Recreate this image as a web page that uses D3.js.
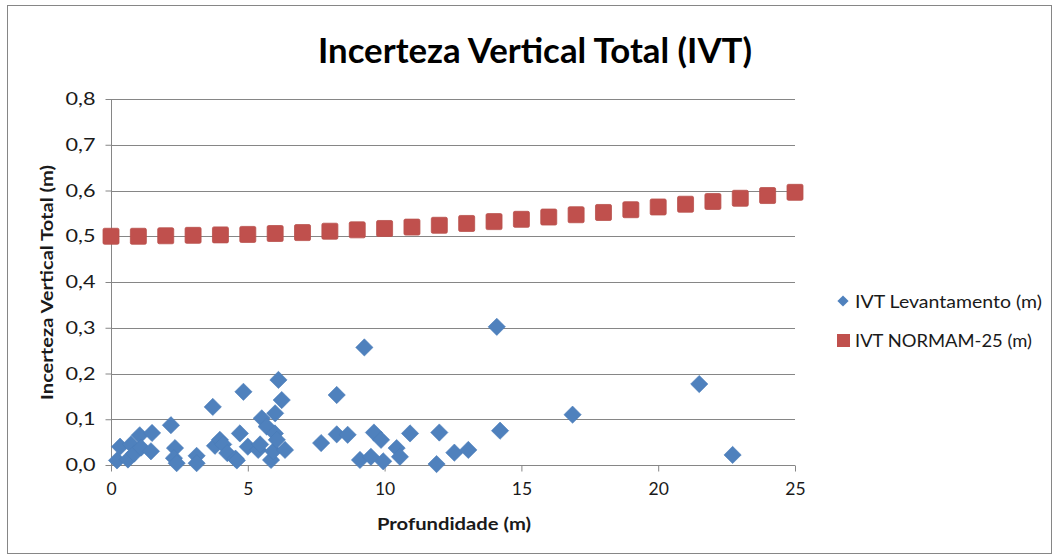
<!DOCTYPE html>
<html>
<head>
<meta charset="utf-8">
<script src="https://cdn.jsdelivr.net/npm/d3@7/dist/d3.min.js"></script>
<style>
  html, body { margin: 0; padding: 0; background: #fff; }
  svg { display: block; }
  text { font-family: Lato, "Open Sans", "Liberation Sans", sans-serif; }
</style>
</head>
<body>
<svg id="chart" width="1059" height="559"></svg>
<script>
// Survey uncertainty per sounding: depth (m) and total vertical uncertainty (m)
const surveyDepth = [
  0.22, 0.33, 0.62, 0.73, 0.85, 1.05, 1.10, 1.50, 1.46, 2.19, 2.34, 2.30, 2.40,
  3.13, 3.13, 3.72, 3.80, 3.98, 4.10, 4.25, 4.55, 4.60, 4.71, 4.84, 5.00, 5.38,
  5.45, 5.51, 5.69, 5.85, 5.93, 5.99, 6.00, 6.06, 6.12, 6.24, 6.36, 7.68, 8.25,
  8.25, 8.65, 9.10, 9.26, 9.50, 9.61, 9.87, 9.95, 10.44, 10.56, 10.93, 11.90,
  12.00, 12.55, 13.06, 14.10, 14.22, 16.87, 21.50, 22.72
];
const surveyIVT = [
  0.010, 0.040, 0.012, 0.045, 0.025, 0.065, 0.038, 0.070, 0.030, 0.087, 0.037, 0.015, 0.004,
  0.020, 0.004, 0.127, 0.042, 0.055, 0.045, 0.026, 0.014, 0.010, 0.069, 0.160, 0.040, 0.033,
  0.045, 0.102, 0.084, 0.011, 0.030, 0.069, 0.113, 0.055, 0.186, 0.142, 0.033, 0.048, 0.153,
  0.067, 0.066, 0.011, 0.257, 0.018, 0.071, 0.055, 0.008, 0.037, 0.018, 0.069, 0.002,
  0.071, 0.027, 0.033, 0.302, 0.075, 0.110, 0.177, 0.022
];

// NORMAM-25 allowed uncertainty at each whole metre of depth
const normamDepth = [0,1,2,3,4,5,6,7,8,9,10,11,12,13,14,15,16,17,18,19,20,21,22,23,24,25];
const normamIVT = [
  0.500, 0.500, 0.501, 0.502, 0.503, 0.504, 0.506, 0.508, 0.511, 0.514, 0.517, 0.520, 0.524,
  0.528, 0.532, 0.537, 0.542, 0.547, 0.552, 0.558, 0.564, 0.570, 0.576, 0.583, 0.589, 0.596
];

const xTicks = [0, 5, 10, 15, 20, 25];
const yTicks = [0, 0.1, 0.2, 0.3, 0.4, 0.5, 0.6, 0.7, 0.8];

const titleText = "Incerteza Vertical Total (IVT)";
const xTitle = "Profundidade (m)";
const yTitle = "Incerteza Vertical Total (m)";
const seriesNames = ["IVT Levantamento (m)", "IVT NORMAM-25 (m)"];

const blue = "#4f81bd";
const red = "#c0504d";
const gridColor = "#868686";
const textColor = "#1a1a1a";

const svg = d3.select("#chart");

// outer chart frame
svg.append("rect")
  .attr("x", 7.5).attr("y", 5.5)
  .attr("width", 1044).attr("height", 548)
  .attr("fill", "#fff").attr("stroke", "#868686").attr("stroke-width", 1);

const plot = { left: 111, right: 795, top: 99, bottom: 465 };

const x = d3.scaleLinear().domain([0, 25]).range([plot.left, plot.right]);
const y = d3.scaleLinear().domain([0, 0.8]).range([plot.bottom, plot.top]);

const fmt = d => d3.format(".1f")(d).replace(".", ",");

// horizontal gridlines
svg.append("g")
  .selectAll("line")
  .data(yTicks.filter(t => t > 0))
  .join("line")
  .attr("x1", plot.left).attr("x2", plot.right)
  .attr("y1", d => Math.round(y(d)) + 0.5).attr("y2", d => Math.round(y(d)) + 0.5)
  .attr("stroke", gridColor).attr("stroke-width", 1);

// y axis
const yAxis = svg.append("g")
  .attr("transform", `translate(${plot.left + 0.5},0)`)
  .call(d3.axisLeft(y).tickValues(yTicks).tickFormat(fmt).tickSize(6).tickPadding(10));
yAxis.select(".domain").attr("stroke", gridColor).attr("d", `M0,${plot.top}V${plot.bottom}`);
yAxis.selectAll(".tick line").attr("stroke", gridColor);
yAxis.selectAll(".tick text")
  .attr("font-size", 17.5).attr("fill", textColor)
  .attr("textLength", 30).attr("lengthAdjust", "spacingAndGlyphs")
  .style("font-family", "Lato, 'Open Sans', sans-serif");

// x axis
const xAxis = svg.append("g")
  .attr("transform", `translate(0,${plot.bottom + 0.5})`)
  .call(d3.axisBottom(x).tickValues(xTicks).tickFormat(d3.format("d")).tickSize(6).tickPadding(11));
xAxis.select(".domain").attr("stroke", gridColor).attr("d", `M${plot.left},0H${plot.right}`);
xAxis.selectAll(".tick line").attr("stroke", gridColor);
xAxis.selectAll(".tick text")
  .attr("font-size", 17.5).attr("fill", textColor)
  .style("font-family", "Lato, 'Open Sans', sans-serif");

// NORMAM-25 series: squares
const sq = 16;
svg.append("g")
  .selectAll("rect")
  .data(normamDepth.map((d, i) => [d, normamIVT[i]]))
  .join("rect")
  .attr("x", d => x(d[0]) - sq / 2)
  .attr("y", d => y(d[1]) - sq / 2)
  .attr("width", sq).attr("height", sq)
  .attr("rx", 1.5)
  .attr("fill", red).attr("stroke", "#b9504c").attr("stroke-width", 0.8);

// Survey series: diamonds
const diamond = d3.symbol().type(d3.symbolDiamond2).size(190);
svg.append("g")
  .selectAll("path")
  .data(surveyDepth.map((d, i) => [d, surveyIVT[i]]))
  .join("path")
  .attr("transform", d => `translate(${x(d[0])},${y(d[1])})`)
  .attr("d", diamond)
  .attr("fill", blue).attr("stroke", "#4a7cb8").attr("stroke-width", 0.6);

// titles
svg.append("text")
  .attr("x", 535).attr("y", 63)
  .attr("text-anchor", "middle")
  .attr("font-size", 34).attr("font-weight", "bold").attr("fill", "#000")
  .attr("textLength", 434).attr("lengthAdjust", "spacingAndGlyphs")
  .text(titleText);

svg.append("text")
  .attr("x", 454).attr("y", 530)
  .attr("text-anchor", "middle")
  .attr("font-size", 17).attr("font-weight", "bold").attr("fill", textColor)
  .attr("textLength", 154).attr("lengthAdjust", "spacingAndGlyphs")
  .text(xTitle);

svg.append("text")
  .attr("transform", "translate(53,282.5) rotate(-90)")
  .attr("text-anchor", "middle")
  .attr("font-size", 17).attr("font-weight", "bold").attr("fill", textColor)
  .attr("textLength", 235).attr("lengthAdjust", "spacingAndGlyphs")
  .text(yTitle);

// legend
const legend = svg.append("g");
legend.append("path")
  .attr("transform", "translate(843,301)")
  .attr("d", d3.symbol().type(d3.symbolDiamond2).size(80))
  .attr("fill", blue);
legend.append("rect")
  .attr("x", 837).attr("y", 334).attr("width", 13).attr("height", 13)
  .attr("fill", red);
legend.selectAll("text.lg")
  .data(seriesNames)
  .join("text")
  .attr("class", "lg")
  .attr("x", 855).attr("y", (d, i) => 307.5 + i * 39.5)
  .attr("font-size", 17.5).attr("fill", textColor)
  .attr("textLength", (d, i) => i === 0 ? 187 : 177)
  .attr("lengthAdjust", "spacingAndGlyphs")
  .text(d => d);
</script>
</body>
</html>
